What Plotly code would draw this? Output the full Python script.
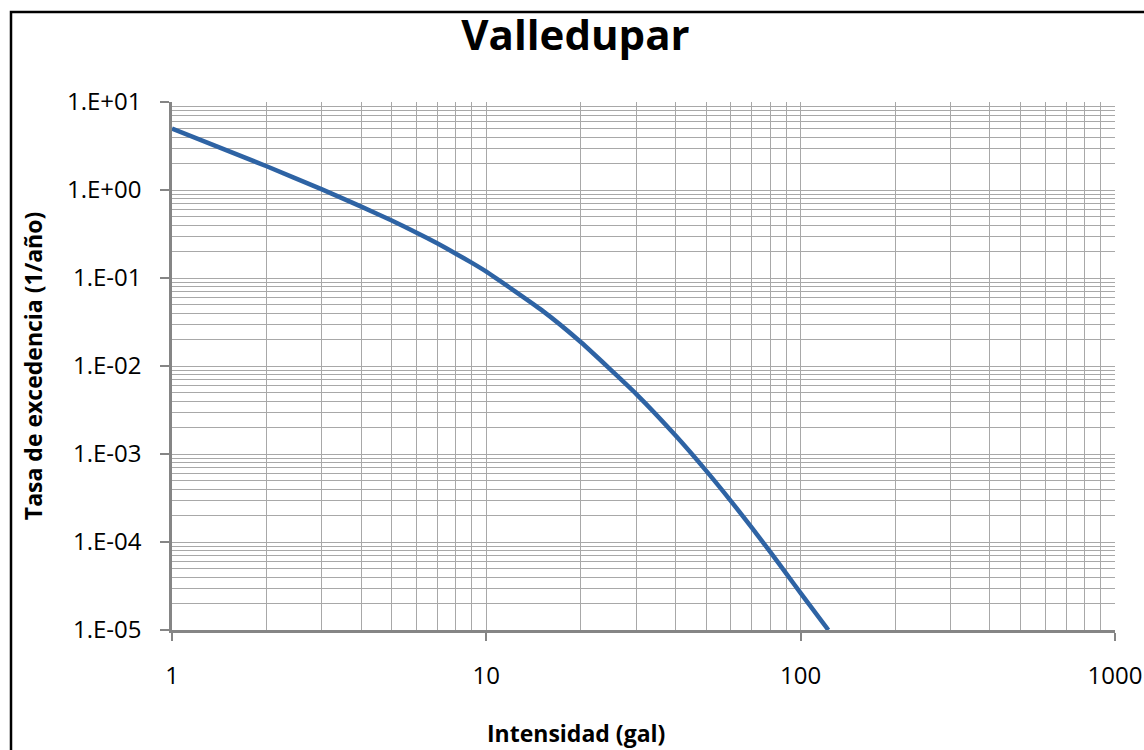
import plotly.graph_objects as go

# Data
intensidad = [1, 2, 3, 4, 5, 6, 7, 8, 9, 10, 15, 20, 30, 40, 50, 60, 70, 80, 90, 100, 122.5]
tasa = [5.0, 1.86, 1.016, 0.647, 0.450, 0.327, 0.246, 0.189, 0.1485, 0.118,
        0.0431, 0.0186, 4.80e-3, 1.62e-3, 6.47e-4, 2.92e-4, 1.45e-4, 7.71e-5,
        4.38e-5, 2.62e-5, 1.0e-5]

x_tickvals = [1, 10, 100, 1000]
x_ticktext = ["1", "10", "100", "1000"]
y_tickvals = [1e1, 1e0, 1e-1, 1e-2, 1e-3, 1e-4, 1e-5]
y_ticktext = ["1.E+01", "1.E+00", "1.E-01", "1.E-02", "1.E-03", "1.E-04", "1.E-05"]

x_minor = [m * 10 ** k for k in range(0, 3) for m in range(2, 10)]
y_minor = [m * 10.0 ** k for k in range(-5, 1) for m in range(2, 10)]

FONT = "Open Sans"
GRID = "#A8A8A8"
AXIS = "#858585"

fig = go.Figure()
fig.add_trace(go.Scatter(
    x=intensidad, y=tasa, mode="lines",
    line=dict(color="#2E63A4", width=4.5, shape="spline", smoothing=0.5),
    showlegend=False, hoverinfo="x+y",
))

fig.update_layout(
    width=1144, height=750,
    margin=dict(l=172, r=29, t=102, b=120, autoexpand=False),
    paper_bgcolor="white", plot_bgcolor="white",
    title=dict(text="<b>Valledupar</b>", x=0.503, xref="container", xanchor="center",
               y=1 - 35 / 750, yanchor="middle",
               font=dict(family=FONT, size=42, color="black")),
    font=dict(family=FONT, color="black"),
)

fig.update_xaxes(
    type="log", range=[0, 3], automargin=False,
    tickmode="array", tickvals=x_tickvals, ticktext=x_ticktext,
    tickfont=dict(size=24, color="black"),
    ticks="outside", ticklen=8, tickcolor=AXIS, tickwidth=1.5,
    ticklabelstandoff=14,
    showline=True, linecolor=AXIS, linewidth=2.5,
    showgrid=True, gridcolor=GRID, gridwidth=1.3,
    minor=dict(tickmode="array", tickvals=x_minor, showgrid=True,
               gridcolor=GRID, gridwidth=1.3, ticks=""),
    zeroline=False,
)
fig.update_yaxes(
    type="log", range=[-5, 1], automargin=False,
    tickmode="array", tickvals=y_tickvals, ticktext=y_ticktext,
    tickfont=dict(size=24, color="black"),
    ticks="outside", ticklen=9, tickcolor=AXIS, tickwidth=1.5,
    ticklabelstandoff=14,
    showline=True, linecolor=AXIS, linewidth=2.5,
    showgrid=True, gridcolor=GRID, gridwidth=1.3,
    minor=dict(tickmode="array", tickvals=y_minor, showgrid=True,
               gridcolor=GRID, gridwidth=1.3, ticks=""),
    zeroline=False,
    title=dict(text="<b>Tasa de excedencia (1/año)</b>", font=dict(size=23, color="black"),
               standoff=18),
)

# x-axis title, centred on the whole chart as in the reference
fig.add_annotation(text="<b>Intensidad (gal)</b>", xref="paper", yref="paper",
                   x=(576 - 172) / 943, y=(630 - 733) / 528,
                   xanchor="center", yanchor="middle", showarrow=False,
                   font=dict(family=FONT, size=23, color="black"))

# outer chart frame
fig.add_shape(type="rect", xref="paper", yref="paper",
              x0=(11 - 172) / 943, x1=1.2, y0=-0.6, y1=1 + (102 - 12) / 528,
              line=dict(color="black", width=2.5), fillcolor="rgba(0,0,0,0)",
              layer="above")

fig.write_html("out.html")
